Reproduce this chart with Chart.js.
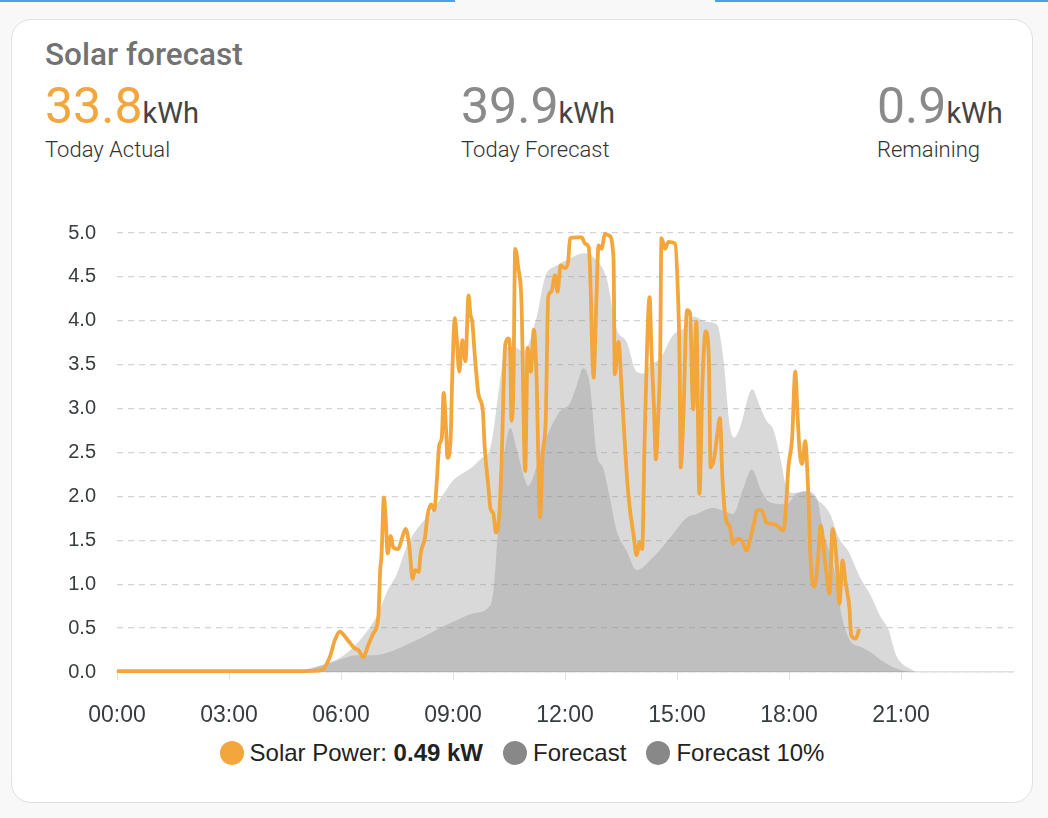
<!DOCTYPE html>
<html>
<head>
<meta charset="utf-8">
<script src="https://cdn.jsdelivr.net/npm/chart.js@4.4.1/dist/chart.umd.min.js"></script>
<style>
  html, body { margin: 0; padding: 0; }
  body {
    width: 1048px; height: 818px; overflow: hidden;
    background: #f8f8f8; position: relative;
    font-family: Roboto, "Noto Sans", sans-serif;
  }
  .topbar { position: absolute; top: 0; height: 2px; background: #4aa2e6; }
  .card {
    position: absolute; left: 11px; top: 19px; width: 1020px; height: 782px;
    background: #fff; border: 1px solid #e0e0e0; border-radius: 20px;
  }
  .title {
    position: absolute; left: 33px; top: 16px;
    font-size: 31.5px; font-weight: 500; color: #727272; white-space: nowrap;
  }
  .stat { position: absolute; top: 57px; white-space: nowrap; }
  .stat .num { font-size: 50px; font-weight: 400; color: #8a8a8a; }
  .stat .num.actual { color: #f2a63b; }
  .stat .unit { font-size: 29px; color: #444; }
  .stat .lbl { font-size: 22px; font-weight: 300; color: #333; margin-top: 2px; }
  #wrap { position: absolute; left: 20px; top: 200px; width: 1010px; height: 530px; }
  #legend {
    position: absolute; left: 11px; width: 1022px; top: 738px; height: 30px;
    display: flex; justify-content: center; align-items: center;
    font-family: "Liberation Sans", Arial, sans-serif; font-size: 24px; color: #222;
  }
  #legend .item { display: flex; align-items: center; margin: 0 10px; white-space: nowrap; }
  #legend .dot { width: 24px; height: 24px; border-radius: 50%; margin-right: 6px; }
</style>
</head>
<body>
<div class="topbar" style="left:0;width:455px"></div>
<div class="topbar" style="left:715px;width:333px"></div>

<div class="card">
  <div class="title">Solar forecast</div>
  <div class="stat" style="left:33px">
    <div><span class="num actual">33.8</span><span class="unit">kWh</span></div>
    <div class="lbl">Today Actual</div>
  </div>
  <div class="stat" style="left:449px">
    <div><span class="num">39.9</span><span class="unit">kWh</span></div>
    <div class="lbl">Today Forecast</div>
  </div>
  <div class="stat" style="left:865px">
    <div><span class="num">0.9</span><span class="unit">kWh</span></div>
    <div class="lbl">Remaining</div>
  </div>
</div>

<div id="wrap"><canvas id="solarChart"></canvas></div>
<div id="legend"></div>

<script>
// actual solar power (kW)
const powerTimes = [
  '00:00', '02:00', '04:00', '05:00', '05:29', '05:42', '05:50', '05:58', '06:09', '06:22',
  '06:28', '06:36', '06:44', '06:52', '07:00', '07:03', '07:05', '07:09', '07:12', '07:15',
  '07:20', '07:24', '07:32', '07:37', '07:44', '07:50', '07:55', '07:59', '08:05', '08:08',
  '08:15', '08:19', '08:25', '08:30', '08:34', '08:38', '08:42', '08:45', '08:49', '08:51',
  '08:56', '08:59', '09:03', '09:06', '09:10', '09:15', '09:20', '09:25', '09:28', '09:31',
  '09:35', '09:41', '09:48', '09:51', '09:57', '10:00', '10:05', '10:09', '10:14', '10:18',
  '10:24', '10:29', '10:32', '10:34', '10:37', '10:40', '10:45', '10:50', '10:56', '11:00',
  '11:05', '11:10', '11:14', '11:20', '11:24', '11:29', '11:33', '11:38', '11:44', '11:48',
  '11:53', '12:00', '12:05', '12:08', '12:19', '12:27', '12:32', '12:38', '12:40', '12:46',
  '12:50', '12:54', '12:59', '13:01', '13:04', '13:11', '13:18', '13:20', '13:26', '13:31',
  '13:35', '13:40', '13:44', '13:50', '13:55', '14:00', '14:04', '14:08', '14:16', '14:19',
  '14:23', '14:26', '14:30', '14:33', '14:35', '14:41', '14:46', '14:57', '15:01', '15:04',
  '15:06', '15:10', '15:16', '15:21', '15:26', '15:31', '15:36', '15:41', '15:46', '15:51',
  '15:54', '16:00', '16:05', '16:09', '16:13', '16:18', '16:25', '16:30', '16:37', '16:44',
  '16:52', '16:57', '17:03', '17:09', '17:16', '17:24', '17:32', '17:40', '17:51', '17:55',
  '17:59', '18:05', '18:10', '18:14', '18:17', '18:21', '18:26', '18:31', '18:35', '18:41',
  '18:46', '18:51', '18:57', '19:01', '19:05', '19:10', '19:16', '19:21', '19:26', '19:31',
  '19:37', '19:40', '19:47', '19:53'
];
const powerValues = [
  0.01, 0.01, 0.01, 0.01, 0.02, 0.17, 0.36, 0.46, 0.38, 0.27,
  0.25, 0.17, 0.31, 0.44, 0.63, 1.16, 1.31, 1.99, 1.72, 1.35,
  1.55, 1.42, 1.40, 1.50, 1.63, 1.42, 1.06, 1.16, 1.14, 1.35,
  1.53, 1.78, 1.91, 1.84, 2.18, 2.59, 2.67, 3.18, 2.74, 2.44,
  2.63, 3.42, 4.03, 3.80, 3.42, 3.78, 3.54, 4.29, 4.07, 3.99,
  3.61, 3.16, 2.97, 2.55, 2.10, 1.87, 1.80, 1.59, 1.76, 2.37,
  3.73, 3.80, 3.61, 2.86, 3.23, 4.82, 4.60, 4.22, 2.29, 3.69,
  3.42, 3.90, 3.42, 1.76, 2.48, 2.86, 4.27, 4.33, 4.52, 4.33,
  4.63, 4.60, 4.67, 4.94, 4.95, 4.95, 4.88, 4.84, 4.63, 3.35,
  4.14, 4.86, 4.82, 4.88, 4.99, 4.97, 4.71, 3.39, 3.76, 3.23,
  2.74, 2.18, 1.87, 1.57, 1.33, 1.48, 1.40, 2.65, 4.27, 3.65,
  3.01, 2.42, 2.95, 3.61, 4.94, 4.82, 4.90, 4.88, 4.41, 3.61,
  2.33, 2.86, 4.12, 4.09, 2.99, 3.99, 2.03, 3.31, 3.88, 3.61,
  2.33, 2.44, 2.72, 2.89, 2.21, 1.76, 1.65, 1.46, 1.52, 1.50,
  1.38, 1.50, 1.67, 1.84, 1.84, 1.70, 1.69, 1.67, 1.61, 1.87,
  2.33, 2.66, 3.42, 2.89, 2.52, 2.37, 2.63, 2.03, 1.23, 0.97,
  1.23, 1.67, 1.31, 1.08, 0.89, 1.63, 1.31, 0.78, 1.27, 1.01,
  0.74, 0.42, 0.38, 0.49
];

// forecast (kW)
const forecastTimes = [
  '00:00', '04:30', '05:00', '05:30', '06:00', '06:30', '07:00', '07:15', '07:30', '07:45',
  '08:00', '08:15', '08:30', '08:45', '09:00', '09:15', '09:30', '09:45', '10:00', '10:15',
  '10:24', '10:37', '10:53', '11:14', '11:28', '11:47', '12:08', '12:29', '12:51', '13:07',
  '13:23', '13:39', '13:55', '14:06', '14:17', '14:33', '14:54', '15:10', '15:26', '15:48',
  '16:04', '16:15', '16:25', '16:32', '16:41', '17:01', '17:13', '17:24', '17:35', '17:46',
  '17:56', '18:07', '18:28', '18:44', '19:06', '19:20', '19:35', '19:54', '20:10', '20:27',
  '20:40', '20:51', '21:01', '21:14', '21:25', '24:00'
];
const forecastValues = [
  0, 0, 0.02, 0.08, 0.17, 0.36, 0.67, 0.93, 1.12, 1.42,
  1.61, 1.74, 1.87, 2.03, 2.18, 2.26, 2.33, 2.43, 2.55, 3.28,
  3.69, 3.71, 3.65, 4.03, 4.50, 4.63, 4.71, 4.77, 4.69, 4.48,
  3.91, 3.76, 3.42, 3.40, 3.50, 3.57, 3.84, 3.91, 4.05, 3.99,
  3.96, 3.54, 2.80, 2.67, 2.78, 3.22, 3.03, 2.86, 2.76, 2.44,
  2.10, 2.04, 2.06, 1.97, 1.80, 1.53, 1.38, 1.08, 0.89, 0.63,
  0.48, 0.21, 0.10, 0.04, 0, 0
];

// forecast 10th percentile (kW)
const forecast10Times = [
  '00:00', '04:40', '05:10', '05:31', '05:58', '06:25', '06:52', '07:19', '07:45', '08:12',
  '08:39', '09:06', '09:33', '10:00', '10:06', '10:12', '10:18', '10:26', '10:32', '10:42',
  '10:53', '11:01', '11:14', '11:30', '11:52', '12:08', '12:19', '12:29', '12:40', '12:51',
  '13:01', '13:12', '13:23', '13:39', '13:55', '14:22', '14:49', '15:16', '15:32', '15:58',
  '16:20', '16:30', '16:47', '17:00', '17:16', '17:30', '17:56', '18:12', '18:28', '18:44',
  '18:55', '19:12', '19:20', '19:25', '19:38', '19:54', '20:10', '20:31', '20:53', '21:20',
  '24:00'
];
const forecast10Values = [
  0, 0, 0.04, 0.08, 0.14, 0.19, 0.19, 0.23, 0.31, 0.40,
  0.50, 0.59, 0.67, 0.76, 1.00, 1.60, 2.20, 2.65, 2.78, 2.55,
  2.25, 2.12, 2.33, 2.67, 2.97, 3.06, 3.27, 3.46, 3.27, 2.48,
  2.33, 1.99, 1.61, 1.38, 1.16, 1.31, 1.53, 1.76, 1.80, 1.87,
  1.82, 1.80, 2.10, 2.31, 2.06, 1.93, 1.91, 2.03, 2.06, 1.99,
  1.61, 1.19, 0.85, 0.63, 0.36, 0.29, 0.23, 0.12, 0.04, 0,
  0
];

const yTicks = [0, 0.5, 1, 1.5, 2, 2.5, 3, 3.5, 4, 4.5, 5];
const xTickHours = [0, 3, 6, 9, 12, 15, 18, 21];

const ORANGE = '#f2a63b';
const AREA = 'rgba(136, 136, 136, 0.32)';
const LEGEND_GREY = '#888888';

function toHours(t) {
  const [h, m] = t.split(':').map(Number);
  return h + m / 60;
}
function points(times, values) {
  return times.map((t, i) => ({ x: toHours(t), y: values[i] }));
}
function hourLabel(h) {
  return String(h).padStart(2, '0') + ':00';
}

const ctx = document.getElementById('solarChart').getContext('2d');
const chart = new Chart(ctx, {
  type: 'line',
  data: {
    datasets: [
      {
        label: 'Solar Power',
        data: points(powerTimes, powerValues),
        borderColor: ORANGE,
        borderWidth: 3.8,
        pointRadius: 0,
        fill: false,
        clip: false,
        cubicInterpolationMode: 'monotone',
        legendColor: ORANGE
      },
      {
        label: 'Forecast',
        data: points(forecastTimes, forecastValues),
        borderWidth: 0,
        borderColor: 'rgba(0,0,0,0)',
        backgroundColor: AREA,
        pointRadius: 0,
        fill: 'origin',
        cubicInterpolationMode: 'monotone',
        legendColor: LEGEND_GREY
      },
      {
        label: 'Forecast 10%',
        data: points(forecast10Times, forecast10Values),
        borderWidth: 0,
        borderColor: 'rgba(0,0,0,0)',
        backgroundColor: AREA,
        pointRadius: 0,
        fill: 'origin',
        cubicInterpolationMode: 'monotone',
        legendColor: LEGEND_GREY
      }
    ]
  },
  options: {
    responsive: true,
    maintainAspectRatio: false,
    animation: false,
    layout: { padding: { top: 31, right: 17, left: 0, bottom: 0 } },
    plugins: {
      legend: { display: false },
      tooltip: { enabled: false }
    },
    scales: {
      x: {
        type: 'linear',
        min: 0,
        max: 24,
        afterBuildTicks: scale => { scale.ticks = xTickHours.map(v => ({ value: v })); },
        afterFit: scale => { scale.height = 58; },
        ticks: {
          callback: v => hourLabel(v),
          maxRotation: 0,
          autoSkip: false,
          padding: 22,
          color: '#373d3f',
          font: { family: '"Liberation Sans", Arial, sans-serif', size: 23 }
        },
        grid: { drawOnChartArea: false, drawTicks: true, tickLength: 8, color: '#e0e0e0' },
        border: { display: true, color: '#e0e0e0', width: 1.5 }
      },
      y: {
        min: 0,
        max: 5,
        afterBuildTicks: scale => { scale.ticks = yTicks.map(v => ({ value: v })); },
        afterFit: scale => { scale.width = 97; },
        ticks: {
          callback: v => v.toFixed(1),
          padding: 21,
          color: '#373d3f',
          font: { family: '"Liberation Sans", Arial, sans-serif', size: 20 }
        },
        grid: { color: '#d4d4d4', drawTicks: false, lineWidth: 1.3 },
        border: { display: false, dash: [6, 5] }
      }
    }
  }
});

// HTML legend, the solar entry shows the latest reading in bold
const legend = document.getElementById('legend');
chart.data.datasets.forEach((ds, i) => {
  const item = document.createElement('div');
  item.className = 'item';
  const dot = document.createElement('span');
  dot.className = 'dot';
  dot.style.background = ds.legendColor;
  item.appendChild(dot);
  const txt = document.createElement('span');
  txt.textContent = ds.label;
  if (i === 0) {
    txt.textContent += ': ';
    const b = document.createElement('b');
    b.textContent = powerValues[powerValues.length - 1].toFixed(2) + ' kW';
    txt.appendChild(b);
  }
  item.appendChild(txt);
  legend.appendChild(item);
});
</script>
</body>
</html>
